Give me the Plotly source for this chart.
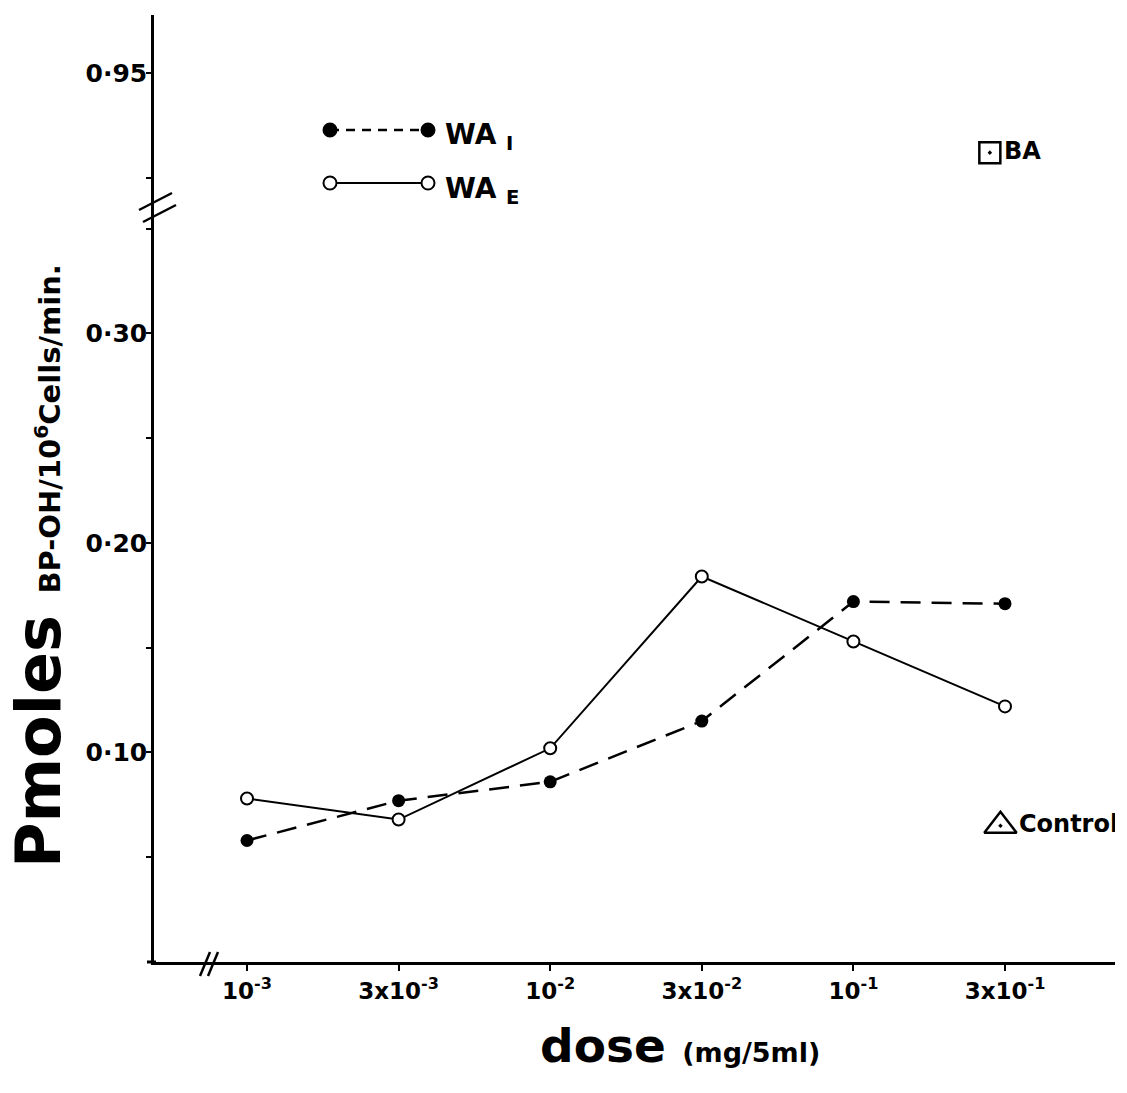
import plotly.graph_objects as go

# ---------------- data ----------------
doses = ["10<sup>-3</sup>", "3x10<sup>-3</sup>", "10<sup>-2</sup>",
         "3x10<sup>-2</sup>", "10<sup>-1</sup>", "3x10<sup>-1</sup>"]
dose_pos = [0, 1, 2, 3, 4, 5]
wa_i = [0.058, 0.077, 0.086, 0.115, 0.172, 0.171]
wa_e = [0.078, 0.068, 0.102, 0.184, 0.153, 0.122]
ba_pos = [4.9]
ba_val = [0.912]
control_pos = [4.97]
control_val = [0.065]
y_ticks_low = [0.10, 0.20, 0.30]
y_text_low = ["0·10", "0·20", "0·30"]
y_minor_low = [0.05, 0.15, 0.25, 0.35]
y_ticks_up = [0.95]
y_text_up = ["0·95"]
y_minor_up = [0.90]

W, H = 1127, 1093
FONT = "DejaVu Sans"


def px(x, y):
    return x / W, 1 - y / H


fig = go.Figure()

fig.add_trace(go.Scatter(
    x=dose_pos, y=wa_i, mode="lines+markers", xaxis="x", yaxis="y",
    line=dict(color="black", width=2.5, dash="20px,11px"),
    marker=dict(symbol="circle", size=13, color="black"),
    showlegend=False))
fig.add_trace(go.Scatter(
    x=dose_pos, y=wa_e, mode="lines+markers", xaxis="x", yaxis="y",
    line=dict(color="black", width=2),
    marker=dict(symbol="circle", size=12, color="white",
                line=dict(color="black", width=2)),
    showlegend=False))
fig.add_trace(go.Scatter(
    x=control_pos, y=control_val, mode="markers+text", xaxis="x", yaxis="y",
    marker=dict(symbol="triangle-up-open-dot", size=28, color="black",
                line=dict(width=2.5)),
    text=["Control"], textposition="middle right",
    textfont=dict(family=FONT, size=24, color="black", weight="bold"),
    showlegend=False))
fig.add_trace(go.Scatter(
    x=ba_pos, y=ba_val, mode="markers+text", xaxis="x", yaxis="y2",
    marker=dict(symbol="square-open-dot", size=21, color="black",
                line=dict(width=2.5)),
    text=["BA"], textposition="middle right",
    textfont=dict(family=FONT, size=24, color="black", weight="bold"),
    showlegend=False))

yax_common = dict(showline=True, linewidth=2.5, linecolor="black",
                  ticks="outside", ticklen=5, tickwidth=2, tickcolor="black",
                  ticklabelstandoff=-6,
                  tickfont=dict(family=FONT, size=25, weight="bold"),
                  showgrid=False, zeroline=False, anchor="x")

fig.update_layout(
    width=W, height=H, autosize=False,
    margin=dict(l=0, r=0, t=0, b=0),
    paper_bgcolor="white", plot_bgcolor="white",
    font=dict(family=FONT, color="black"),
    xaxis=dict(domain=[154 / W, 1115 / W], range=[-0.6135, 5.7256],
               tickvals=dose_pos, ticktext=doses,
               showline=True, linewidth=3, linecolor="black",
               ticks="outside", ticklen=6, tickwidth=2, tickcolor="black",
               tickfont=dict(family=FONT, size=23, weight="bold"),
               showgrid=False, zeroline=False, anchor="y"),
    yaxis=dict(domain=[1 - 962 / H, 1 - 205 / H], range=[0, 0.3613],
               tickvals=y_ticks_low, ticktext=y_text_low,
               minor=dict(tickvals=y_minor_low, ticks="outside", ticklen=5,
                          tickwidth=2, tickcolor="black"),
               **yax_common),
    yaxis2=dict(domain=[1 - 205 / H, 1 - 15 / H], range=[0.8870, 0.9777],
                tickvals=y_ticks_up, ticktext=y_text_up,
                minor=dict(tickvals=y_minor_up, ticks="outside", ticklen=5,
                           tickwidth=2, tickcolor="black"),
                **yax_common),
)

shapes = []
# axis break marks on y axis
for (a, b) in [((139, 210), (172, 193)), ((143, 222), (176, 205))]:
    xa, ya = px(*a)
    xb, yb = px(*b)
    shapes.append(dict(type="line", xref="paper", yref="paper",
                       x0=xa, y0=ya, x1=xb, y1=yb,
                       line=dict(color="black", width=2.5)))
# axis break marks on x axis
for (a, b) in [((200, 976), (210, 952)), ((208, 976), (218, 952))]:
    xa, ya = px(*a)
    xb, yb = px(*b)
    shapes.append(dict(type="line", xref="paper", yref="paper",
                       x0=xa, y0=ya, x1=xb, y1=yb,
                       line=dict(color="black", width=2.5)))
# x axis extends slightly left of y axis
xa, ya = px(147, 962)
xb, yb = px(156, 962)
shapes.append(dict(type="line", xref="paper", yref="paper",
                   x0=xa, y0=ya, x1=xb, y1=yb,
                   line=dict(color="black", width=3)))

# legend samples
leg = [(130, "9px,7px", "black"), (183, "solid", "white")]
for (ly, dash, fill) in leg:
    xa, ya = px(330, ly)
    xb, yb = px(428, ly)
    shapes.append(dict(type="line", xref="paper", yref="paper",
                       x0=xa, y0=ya, x1=xb, y1=ya,
                       line=dict(color="black", width=2.5 if fill == "black" else 2,
                                 dash=dash)))
    for cx in (330, 428):
        xc, yc = px(cx, ly)
        shapes.append(dict(type="circle", xref="paper", yref="paper",
                           xsizemode="pixel", ysizemode="pixel",
                           xanchor=xc, yanchor=yc,
                           x0=-6.5, x1=6.5, y0=-6.5, y1=6.5,
                           fillcolor=fill, line=dict(color="black", width=2)))
fig.update_layout(shapes=shapes)

ann = []
lx, ly = px(443, 136)
ann.append(dict(xref="paper", yref="paper", x=lx, y=ly, xanchor="left",
                yanchor="middle", showarrow=False,
                text="WA <sub>I</sub>",
                font=dict(family=FONT, size=28, weight="bold")))
lx, ly = px(443, 190)
ann.append(dict(xref="paper", yref="paper", x=lx, y=ly, xanchor="left",
                yanchor="middle", showarrow=False,
                text="WA <sub>E</sub>",
                font=dict(family=FONT, size=28, weight="bold")))
# y title
tx, ty = px(38, 566)
ann.append(dict(xref="paper", yref="paper", x=tx, y=ty, xanchor="center",
                yanchor="middle", showarrow=False, textangle=-90,
                text="<b>Pmoles</b> <span style='font-size:29px'>BP-OH/10<sup>6</sup>Cells/min.</span>",
                font=dict(family=FONT, size=62, weight="bold")))
# x title
tx, ty = px(680, 1045)
ann.append(dict(xref="paper", yref="paper", x=tx, y=ty, xanchor="center",
                yanchor="middle", showarrow=False,
                text="<b>dose</b> <span style='font-size:27px'>(mg/5ml)</span>",
                font=dict(family=FONT, size=47, weight="bold")))
fig.update_layout(annotations=ann)

fig.write_html("out.html")
